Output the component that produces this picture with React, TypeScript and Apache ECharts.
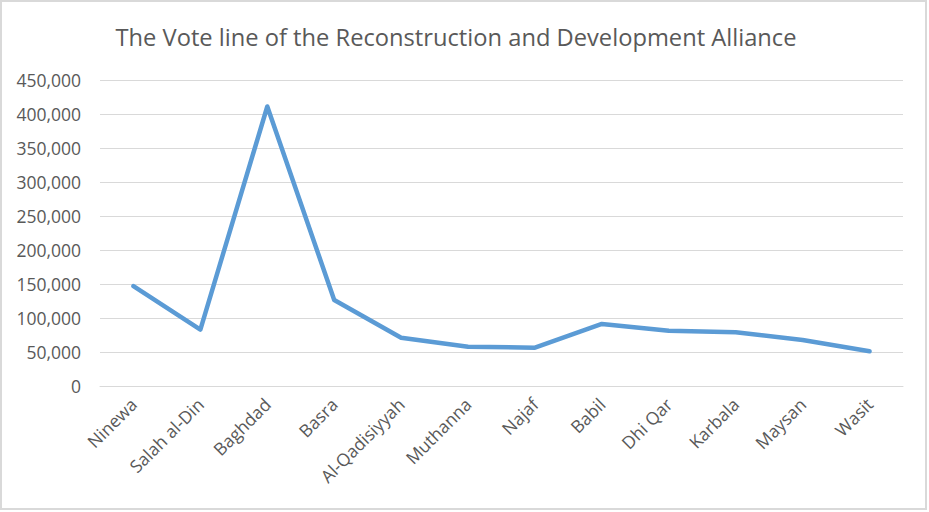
import React, { useEffect, useRef } from "react";
import * as echarts from "echarts";

const categories = [
  "Ninewa",
  "Salah al-Din",
  "Baghdad",
  "Basra",
  "Al-Qadisiyyah",
  "Muthanna",
  "Najaf",
  "Babil",
  "Dhi Qar",
  "Karbala",
  "Maysan",
  "Wasit",
];

const votes = [147000, 83000, 411000, 126500, 71000, 57800, 56300, 91200, 81300, 79000, 67600, 51000];

const titleText = "The Vote line of the Reconstruction and Development Alliance";

const FONT = "'Open Sans', 'Liberation Sans', sans-serif";
const TEXT_COLOR = "#595959";
const GRID_COLOR = "#d9d9d9";

export default function App() {
  const ref = useRef<HTMLDivElement>(null);

  useEffect(() => {
    document.body.style.margin = "0";
    if (!ref.current) return;
    const chart = echarts.init(ref.current, undefined, { renderer: "svg" });
    chart.setOption({
      animation: false,
      backgroundColor: "#ffffff",
      grid: { left: 100, right: 26, top: 80, bottom: 126, containLabel: false },
      graphic: [
        {
          type: "rect",
          silent: true,
          shape: { x: 1, y: 1, width: 925, height: 508 },
          style: { fill: "none", stroke: GRID_COLOR, lineWidth: 2 },
        },
        {
          type: "text",
          silent: true,
          x: 456,
          y: 37,
          style: {
            text: titleText,
            fill: TEXT_COLOR,
            font: `23.7px ${FONT}`,
            textAlign: "center",
            textVerticalAlign: "middle",
          },
        },
      ],
      xAxis: {
        type: "category",
        data: categories,
        boundaryGap: true,
        axisLine: { show: true, lineStyle: { color: GRID_COLOR, width: 1 } },
        axisTick: { show: false },
        axisLabel: {
          rotate: 45,
          interval: 0,
          margin: 15,
          color: TEXT_COLOR,
          fontSize: 17.5,
          fontFamily: FONT,
        },
      },
      yAxis: {
        type: "value",
        min: 0,
        max: 450000,
        interval: 50000,
        axisLine: { show: false },
        axisTick: { show: false },
        splitLine: { lineStyle: { color: GRID_COLOR, width: 1 } },
        axisLabel: {
          margin: 19,
          color: TEXT_COLOR,
          fontSize: 17.5,
          fontFamily: FONT,
          formatter: (v: number) => v.toLocaleString("en-US"),
        },
      },
      series: [
        {
          type: "line",
          data: votes,
          showSymbol: false,
          symbol: "none",
          lineStyle: { color: "#5b9bd5", width: 4.5, cap: "round", join: "round" },
          itemStyle: { color: "#5b9bd5" },
        },
      ],
    });
    return () => chart.dispose();
  }, []);

  return (
    <div
      ref={ref}
      style={{ position: "fixed", left: 0, top: 0, width: 929, height: 512 }}
    />
  );
}
